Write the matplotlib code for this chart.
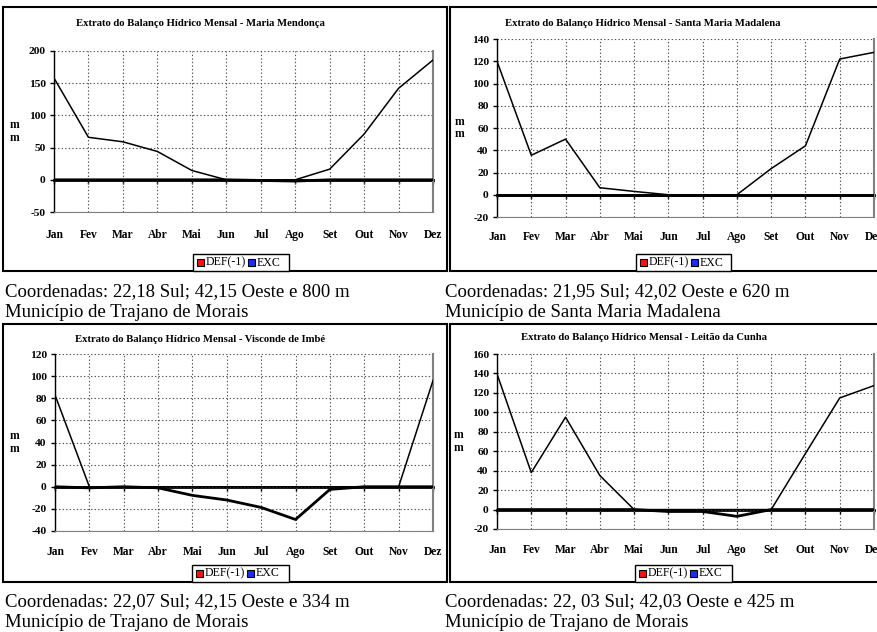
"""
Extrato do Balanço Hídrico Mensal - quatro estações (DEF(-1) e EXC, mm)
"""
import matplotlib.pyplot as plt
import matplotlib.patches as mpatches

plt.rcParams['font.family'] = ['Liberation Serif', 'DejaVu Serif']
plt.rcParams['axes.unicode_minus'] = False

W, H = 878, 632

MESES = ['Jan', 'Fev', 'Mar', 'Abr', 'Mai', 'Jun', 'Jul', 'Ago', 'Set', 'Out', 'Nov', 'Dez']

# excedente (EXC) e deficit (DEF*-1) em mm
exc_mendonca = [158, 66, 59, 44, 14.5, 0, 0, 0, 16.5, 71, 142, 186]
def_mendonca = [0, 0, 0, 0, 0, 0, -1, -2, 0, 0, 0, 0]
exc_madalena = [120, 35.5, 50, 6.3, 3, 0, 0, 0, 23.5, 44, 122, 128]
def_madalena = [0, 0, 0, 0, 0, 0, 0, 0, 0, 0, 0, 0]
exc_imbe = [83, 0, 0, 0, 0, 0, 0, 0, 0, 0, 0, 96]
def_imbe = [0, -1, 0, -1, -7.8, -12, -18.7, -29.6, -2.4, 0, 0, 0]
exc_cunha = [139.5, 38, 95, 35, 0, 0, 0, 0, 0, 57.7, 114.8, 127.5]
def_cunha = [0, 0, 0, 0, 0, -2, -2, -7, 0, 0, 0, 0]

yticks_mendonca = [-50, 0, 50, 100, 150, 200]
yticks_madalena = [-20, 0, 20, 40, 60, 80, 100, 120, 140]
yticks_imbe = [-40, -20, 0, 20, 40, 60, 80, 100, 120]
yticks_cunha = [-20, 0, 20, 40, 60, 80, 100, 120, 140, 160]

titulos = ['Extrato do Balanço Hídrico Mensal - Maria Mendonça',
           'Extrato do Balanço Hídrico Mensal - Santa Maria Madalena',
           'Extrato do Balanço Hídrico Mensal - Visconde de Imbé',
           'Extrato do Balanço Hídrico Mensal - Leitão da Cunha']

legendas = [('Coordenadas: 22,18 Sul; 42,15 Oeste e 800 m', 'Município de Trajano de Morais'),
            ('Coordenadas: 21,95 Sul; 42,02 Oeste e 620 m', 'Município de Santa Maria Madalena'),
            ('Coordenadas: 22,07 Sul; 42,15 Oeste e 334 m', 'Município de Trajano de Morais'),
            ('Coordenadas: 22, 03 Sul; 42,03 Oeste e 425 m', 'Município de Trajano de Morais')]


def fx(px):
    return px / W


def fy(py):
    return 1 - py / H


fig = plt.figure(figsize=(W / 100, H / 100), dpi=100)
fig.patch.set_facecolor('white')


def painel(box, area, titulo, tit_xy, exc, dfc, yticks, pad, ylab_x, leg_box, leg_text, textos):
    # moldura do gráfico
    x0, y0, x1, y1 = box
    fig.patches.append(mpatches.Rectangle((fx(x0), fy(y1)), fx(x1 - x0), (y1 - y0) / H,
                                          transform=fig.transFigure, facecolor='white',
                                          edgecolor='black', lw=1.5, zorder=-1))
    l, t, r, b = area
    ax = fig.add_axes([fx(l), fy(b), fx(r - l), (b - t) / H])
    ax.set_facecolor('white')
    x = list(range(len(MESES)))
    ax.plot(x, exc, color='black', lw=1.1, zorder=4)
    ax.plot(x, dfc, color='black', lw=2.0, zorder=4)
    ax.set_xlim(0, 11)
    ax.set_ylim(yticks[0], yticks[-1])
    ax.set_yticks(yticks)
    ax.set_xticks(x, MESES)
    ax.grid(True, color='#505050', lw=0.8, ls=(0, (1.2, 2)))
    ax.tick_params(axis='x', length=0, pad=pad, labelsize=8.3)
    ax.tick_params(axis='y', length=3, width=1, direction='out', pad=3, labelsize=8.2)
    for lbl in ax.get_xticklabels() + ax.get_yticklabels():
        lbl.set_fontweight('bold')
    ax.spines['top'].set_visible(False)
    ax.spines['left'].set_color('black')
    ax.spines['left'].set_linewidth(1.0)
    ax.spines['bottom'].set_color('#808080')
    ax.spines['right'].set_color('#808080')
    ax.spines['right'].set_linewidth(1.5)
    # eixo das categorias no zero
    zero = (0 - yticks[0]) / (yticks[-1] - yticks[0])
    sec = ax.secondary_xaxis(zero)
    sec.set_xticks(x)
    sec.tick_params(length=3, width=1, direction='out', labelbottom=False, labeltop=False)
    sec.spines['bottom'].set_linewidth(2.0)
    sec.spines['bottom'].set_color('black')
    # títulos e rótulos
    fig.text(fx(tit_xy[0]), fy(tit_xy[1]), titulo, ha='center', va='center',
             fontsize=7.7, fontweight='bold')
    ymid = (t + b) / 2
    fig.text(fx(ylab_x), fy(ymid), 'm\nm', ha='center', va='center', fontsize=8.3,
             fontweight='bold', linespacing=1.1)
    # legenda
    lx0, ly0, lx1, ly1 = leg_box
    fig.patches.append(mpatches.Rectangle((fx(lx0), fy(ly1)), fx(lx1 - lx0), (ly1 - ly0) / H,
                                          transform=fig.transFigure, facecolor='white',
                                          edgecolor='black', lw=1.0, zorder=3))
    yc = (ly0 + ly1) / 2
    for sx, cor, txt in [(lx0 + 4, '#ff1010', 'DEF(-1)'), (lx0 + 55, '#1a2cff', 'EXC')]:
        fig.patches.append(mpatches.Rectangle((fx(sx), fy(yc + 3.5)), fx(7), 7 / H,
                                              transform=fig.transFigure, facecolor=cor,
                                              edgecolor='black', lw=0.8, zorder=4))
        fig.text(fx(sx + 9), fy(yc), txt, ha='left', va='center', fontsize=8.6, zorder=5)
    # coordenadas abaixo do gráfico
    cx, cy = leg_text
    fig.text(fx(cx), fy(cy), textos[0], ha='left', va='baseline', fontsize=13.5)
    fig.text(fx(cx), fy(cy + 20.5), textos[1], ha='left', va='baseline', fontsize=13.5)
    return ax


layout = [
    dict(box=(3, 7, 447, 271), area=(54, 51, 433, 212), tit_xy=(200, 24), pad=12,
         ylab_x=15, leg_box=(193, 254, 289, 271), leg_text=(5, 296.5)),
    dict(box=(450, 7, 884, 271), area=(497, 39, 874, 217), tit_xy=(643, 24), pad=10,
         ylab_x=460, leg_box=(636, 254, 731, 271), leg_text=(445, 296.5)),
    dict(box=(3, 324, 447, 582), area=(55, 354, 433, 531), tit_xy=(200, 339), pad=11,
         ylab_x=15, leg_box=(192, 565, 289, 582), leg_text=(5, 606.5)),
    dict(box=(450, 324, 884, 582), area=(497, 354, 874, 529), tit_xy=(644, 338), pad=11,
         ylab_x=459, leg_box=(635, 565, 732, 582), leg_text=(445, 606.5)),
]
series = [(exc_mendonca, def_mendonca, yticks_mendonca),
          (exc_madalena, def_madalena, yticks_madalena),
          (exc_imbe, def_imbe, yticks_imbe),
          (exc_cunha, def_cunha, yticks_cunha)]

for i, (lay, (exc, dfc, yt)) in enumerate(zip(layout, series)):
    painel(lay['box'], lay['area'], titulos[i], lay['tit_xy'], exc, dfc, yt, lay['pad'],
           lay['ylab_x'], lay['leg_box'], lay['leg_text'], legendas[i])

fig.savefig('out.png', dpi=100, facecolor='white')
